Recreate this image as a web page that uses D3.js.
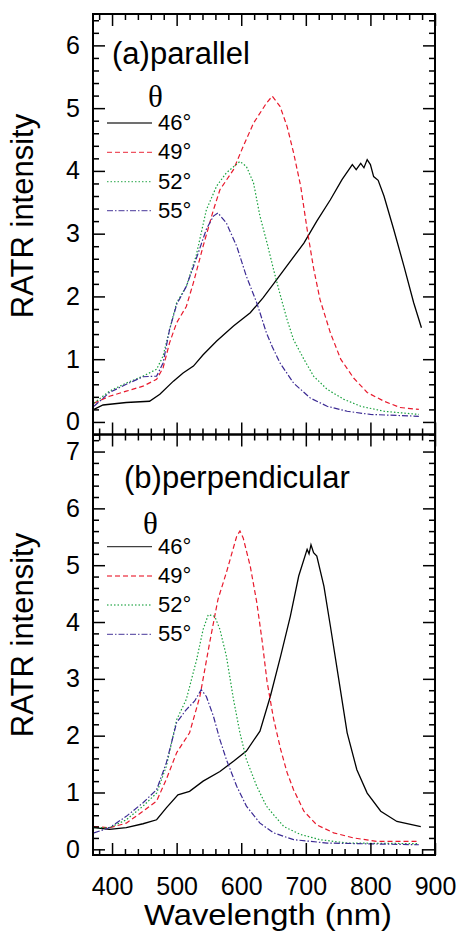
<!DOCTYPE html>
<html>
<head>
<meta charset="utf-8">
<script src="https://cdn.jsdelivr.net/npm/d3@7"></script>
<style>
  body { margin: 0; background: #fff; }
  svg { display: block; font-family: "Liberation Sans", Arial, sans-serif; }
</style>
</head>
<body>
<svg width="458" height="931"></svg>
<script>
/* global d3 */

var width = 458,
  height = 931;

// ---- data (wavelength in nm, RATR intensity) ----

var angleLabels = [ "46°", "49°", "52°", "55°" ];

// (a) parallel
var paraWl46 = [ 372, 386, 422, 458, 474, 495, 510, 526, 541, 562, 588, 614, 634, 650, 671, 697, 717, 738, 756, 772, 778, 785, 790, 795, 800, 805, 812, 821, 836, 852, 867, 879 ];
var paraVal46 = [ 0.20, 0.27, 0.31, 0.33, 0.44, 0.65, 0.78, 0.89, 1.07, 1.29, 1.53, 1.74, 1.98, 2.20, 2.49, 2.85, 3.20, 3.54, 3.86, 4.10, 4.02, 4.12, 4.05, 4.18, 4.10, 3.91, 3.85, 3.60, 3.07, 2.48, 1.90, 1.50 ];

var paraWl49 = [ 372, 396, 422, 448, 469, 479, 489, 500, 515, 526, 541, 557, 567, 588, 603, 619, 639, 648, 660, 671, 681, 692, 702, 712, 722, 738, 754, 774, 795, 821, 846, 875 ];
var paraVal49 = [ 0.30, 0.41, 0.49, 0.57, 0.68, 0.86, 1.26, 1.58, 1.84, 2.22, 2.80, 3.38, 3.70, 4.02, 4.39, 4.76, 5.08, 5.19, 5.03, 4.71, 4.29, 3.76, 3.07, 2.45, 1.95, 1.42, 1.00, 0.70, 0.47, 0.33, 0.23, 0.20 ];

var paraWl52 = [ 372, 396, 422, 448, 469, 479, 489, 500, 515, 530, 546, 562, 577, 598, 608, 619, 629, 640, 650, 661, 671, 681, 697, 712, 733, 759, 785, 821, 875 ];
var paraVal52 = [ 0.30, 0.49, 0.62, 0.73, 0.84, 1.05, 1.47, 1.90, 2.16, 2.64, 3.38, 3.76, 3.97, 4.15, 4.07, 3.81, 3.28, 2.85, 2.43, 2.00, 1.63, 1.31, 1.00, 0.73, 0.52, 0.36, 0.25, 0.17, 0.12 ];

var paraWl55 = [ 372, 396, 422, 448, 469, 479, 489, 500, 515, 530, 546, 557, 564, 577, 593, 608, 624, 639, 648, 660, 681, 707, 733, 764, 800, 875 ];
var paraVal55 = [ 0.25, 0.47, 0.60, 0.72, 0.73, 0.94, 1.47, 1.87, 2.16, 2.59, 3.07, 3.28, 3.33, 3.17, 2.80, 2.32, 1.90, 1.42, 1.20, 0.94, 0.62, 0.38, 0.25, 0.17, 0.12, 0.09 ];

// (b) perpendicular
var perpWl46 = [ 372, 396, 422, 448, 469, 484, 502, 520, 541, 567, 588, 608, 629, 645, 661, 676, 689, 702, 705, 708, 712, 717, 728, 738, 751, 764, 779, 795, 816, 841, 878 ];
var perpVal46 = [ 0.38, 0.35, 0.38, 0.45, 0.52, 0.73, 0.96, 1.02, 1.20, 1.37, 1.55, 1.73, 2.08, 2.69, 3.40, 4.10, 4.81, 5.28, 5.20, 5.36, 5.22, 5.16, 4.63, 3.93, 2.99, 2.05, 1.40, 0.99, 0.67, 0.49, 0.40 ];

var perpWl49 = [ 372, 396, 422, 448, 469, 484, 500, 520, 536, 551, 564, 577, 593, 598, 603, 614, 624, 632, 640, 650, 661, 671, 681, 697, 717, 743, 774, 810, 875 ];
var perpVal49 = [ 0.40, 0.38, 0.46, 0.67, 0.85, 1.23, 1.70, 2.05, 2.69, 3.63, 4.40, 4.87, 5.51, 5.60, 5.48, 4.98, 4.35, 3.70, 2.95, 2.30, 1.76, 1.35, 1.05, 0.67, 0.43, 0.29, 0.20, 0.14, 0.14 ];

var perpWl52 = [ 372, 396, 422, 448, 469, 484, 500, 515, 531, 541, 549, 559, 567, 577, 588, 598, 608, 624, 639, 650, 666, 692, 722, 764, 875 ];
var perpVal52 = [ 0.38, 0.38, 0.52, 0.76, 0.99, 1.46, 2.28, 2.64, 3.34, 3.87, 4.13, 4.10, 3.87, 3.40, 2.64, 2.05, 1.58, 1.11, 0.76, 0.61, 0.40, 0.26, 0.17, 0.11, 0.10 ];

var perpWl55 = [ 372, 396, 422, 448, 469, 484, 500, 515, 528, 538, 546, 557, 567, 577, 593, 608, 629, 650, 681, 733, 875 ];
var perpVal55 = [ 0.29, 0.38, 0.58, 0.82, 1.05, 1.52, 2.23, 2.46, 2.61, 2.81, 2.69, 2.34, 1.93, 1.58, 1.11, 0.76, 0.46, 0.29, 0.17, 0.11, 0.08 ];

var xMajorTicks = [ 400, 500, 600, 700, 800, 900 ];
var yMajorTicksA = [ 0, 1, 2, 3, 4, 5, 6 ];
var yMajorTicksB = [ 0, 1, 2, 3, 4, 5, 6, 7 ];

// ---- styles ----

var lineColors = [ "#000000", "#e8192c", "#17a03c", "#3b2a93" ];
var lineDashes = [ null, "5,3", "1.5,2", "6,2,1.5,2" ];

var plotLeft = 93,
  plotRight = 435,
  plotTop = 14,
  plotMid = 434.5,
  plotBottom = 855;

var svg = d3.select( "svg" );

var x = d3.scaleLinear()
  .domain( [ 370.5, 900 ] )
  .range( [ plotLeft, plotRight ] );

var xMinorTicks = d3.range( 380, 900, 20 ).filter( d => d % 100 !== 0 );

var panels = [
  {
    label: "(a)parallel",
    domain: [ -0.2, 6.5 ],
    range: [ plotMid, plotTop ],
    majors: yMajorTicksA,
    labelPos: [ 112, 64 ],
    thetaPos: [ 155.5, 107 ],
    legendY: [ 123, 152.3, 181.7, 210.7 ],
    titleY: 216,
    series: [
      d3.zip( paraWl46, paraVal46 ),
      d3.zip( paraWl49, paraVal49 ),
      d3.zip( paraWl52, paraVal52 ),
      d3.zip( paraWl55, paraVal55 )
    ]
  },
  {
    label: "(b)perpendicular",
    domain: [ -0.1, 7.3 ],
    range: [ plotBottom, plotMid ],
    majors: yMajorTicksB,
    labelPos: [ 124, 488 ],
    thetaPos: [ 150.5, 534 ],
    legendY: [ 546.7, 576, 605, 634.3 ],
    titleY: 635,
    series: [
      d3.zip( perpWl46, perpVal46 ),
      d3.zip( perpWl49, perpVal49 ),
      d3.zip( perpWl52, perpVal52 ),
      d3.zip( perpWl55, perpVal55 )
    ]
  }
];

function styleTicks( g, w ) {
  g.select( ".domain" ).remove();
  g.selectAll( ".tick line" )
    .attr( "stroke", "#000" )
    .attr( "stroke-width", w );
  g.selectAll( "text" )
    .attr( "fill", "#000" )
    .style( "font-size", "25px" )
    .style( "font-family", "\"Liberation Sans\", Arial, sans-serif" );
}

panels.forEach( p => {

  var y = d3.scaleLinear()
    .domain( p.domain )
    .range( p.range );

  var yMinor = d3.range( Math.ceil( p.domain[ 0 ] * 5 ), Math.floor( p.domain[ 1 ] * 5 ) + 1 )
    .map( d => d / 5 )
    .filter( d => Math.abs( d - Math.round( d ) ) > 1e-6 );

  var yTop = p.range[ 1 ],
    yBottom = p.range[ 0 ];

  // curves
  var line = d3.line()
    .x( d => x( d[ 0 ] ) )
    .y( d => y( d[ 1 ] ) );

  svg.append( "g" )
    .selectAll( "path" )
    .data( p.series )
    .enter().append( "path" )
      .attr( "d", line )
      .attr( "fill", "none" )
      .attr( "stroke", ( d, i ) => lineColors[ i ] )
      .attr( "stroke-width", ( d, i ) => i === 0 ? 1.3 : 1.2 )
      .attr( "stroke-dasharray", ( d, i ) => lineDashes[ i ] );

  // y axes (left with labels, right plain)
  svg.append( "g" )
    .attr( "transform", "translate(" + plotLeft + ",0)" )
    .call( d3.axisLeft( y ).tickValues( p.majors ).tickSize( -12 ).tickPadding( 13 ).tickFormat( d3.format( "d" ) ) )
    .call( g => styleTicks( g, 1.5 ) );

  svg.append( "g" )
    .attr( "transform", "translate(" + plotLeft + ",0)" )
    .call( d3.axisLeft( y ).tickValues( yMinor ).tickSize( -6 ).tickFormat( "" ) )
    .call( g => styleTicks( g, 1.5 ) );

  svg.append( "g" )
    .attr( "transform", "translate(" + plotRight + ",0)" )
    .call( d3.axisRight( y ).tickValues( p.majors ).tickSize( -12 ).tickFormat( "" ) )
    .call( g => styleTicks( g, 1.5 ) );

  svg.append( "g" )
    .attr( "transform", "translate(" + plotRight + ",0)" )
    .call( d3.axisRight( y ).tickValues( yMinor ).tickSize( -6 ).tickFormat( "" ) )
    .call( g => styleTicks( g, 1.5 ) );

  // x ticks at top and bottom of the panel, pointing inward
  svg.append( "g" )
    .attr( "transform", "translate(0," + yTop + ")" )
    .call( d3.axisTop( x ).tickValues( xMajorTicks ).tickSize( -12 ).tickFormat( "" ) )
    .call( g => styleTicks( g, 1.5 ) );

  svg.append( "g" )
    .attr( "transform", "translate(0," + yTop + ")" )
    .call( d3.axisTop( x ).tickValues( xMinorTicks ).tickSize( -6 ).tickFormat( "" ) )
    .call( g => styleTicks( g, 1.5 ) );

  svg.append( "g" )
    .attr( "transform", "translate(0," + yBottom + ")" )
    .call( d3.axisBottom( x ).tickValues( xMajorTicks ).tickSize( -12 ).tickPadding( 22 )
      .tickFormat( yBottom === plotBottom ? d3.format( "d" ) : "" ) )
    .call( g => styleTicks( g, 1.5 ) );

  svg.append( "g" )
    .attr( "transform", "translate(0," + yBottom + ")" )
    .call( d3.axisBottom( x ).tickValues( xMinorTicks ).tickSize( -6 ).tickFormat( "" ) )
    .call( g => styleTicks( g, 1.5 ) );

  // frame
  svg.append( "rect" )
    .attr( "x", plotLeft )
    .attr( "y", yTop )
    .attr( "width", plotRight - plotLeft )
    .attr( "height", yBottom - yTop )
    .attr( "fill", "none" )
    .attr( "stroke", "#000" )
    .attr( "stroke-width", 2 );

  // panel label
  svg.append( "text" )
    .attr( "x", p.labelPos[ 0 ] )
    .attr( "y", p.labelPos[ 1 ] )
    .style( "font-size", "31px" )
    .text( p.label );

  // y title
  svg.append( "text" )
    .attr( "transform", "translate(33," + p.titleY + ") rotate(-90)" )
    .attr( "text-anchor", "middle" )
    .style( "font-size", "31px" )
    .text( "RATR intensity" );

  // legend
  svg.append( "text" )
    .attr( "x", p.thetaPos[ 0 ] )
    .attr( "y", p.thetaPos[ 1 ] )
    .attr( "text-anchor", "middle" )
    .style( "font-family", "\"Liberation Serif\", \"Times New Roman\", serif" )
    .style( "font-size", "31px" )
    .text( "θ" );

  var legend = svg.append( "g" )
    .selectAll( "g" )
    .data( angleLabels )
    .enter().append( "g" )
      .attr( "transform", ( d, i ) => "translate(0," + p.legendY[ i ] + ")" );

  legend.append( "line" )
    .attr( "x1", 107 )
    .attr( "x2", 152 )
    .attr( "stroke", ( d, i ) => lineColors[ i ] )
    .attr( "stroke-opacity", 0.75 )
    .attr( "stroke-width", 1.3 )
    .attr( "stroke-dasharray", ( d, i ) => lineDashes[ i ] );

  legend.append( "text" )
    .attr( "x", 158 )
    .attr( "y", 7 )
    .style( "font-size", "22px" )
    .text( d => d );

} );

// x title
svg.append( "text" )
  .attr( "x", 268 )
  .attr( "y", 925 )
  .attr( "text-anchor", "middle" )
  .attr( "textLength", 248 )
  .attr( "lengthAdjust", "spacingAndGlyphs" )
  .style( "font-size", "30px" )
  .text( "Wavelength (nm)" );

</script>
</body>
</html>
